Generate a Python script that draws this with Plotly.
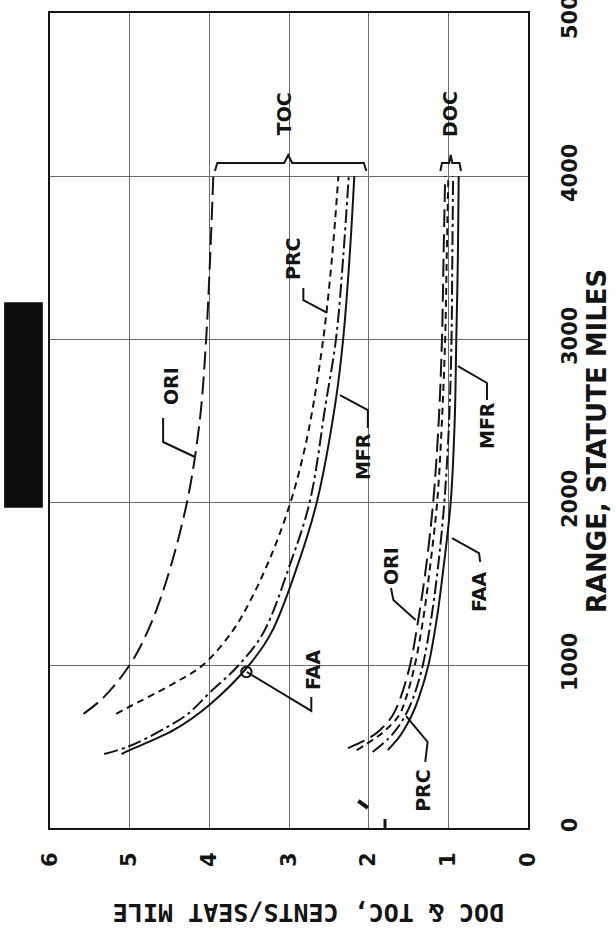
import plotly.graph_objects as go

# Operating cost per seat-mile against stage length, four costing methods.
# TOC = total operating cost, DOC = direct operating cost.
toc_ori_range = [700, 800, 1000, 1200, 1500, 2000, 2500, 3000, 3500, 4000]
toc_ori_cost = [5.58, 5.33, 5.00, 4.78, 4.55, 4.28, 4.12, 4.04, 3.99, 3.95]

toc_prc_range = [700, 750, 800, 900, 1000, 1200, 1400, 1700, 2000, 2250, 2500, 3000, 3500, 4000]
toc_prc_cost = [5.17, 4.98, 4.78, 4.40, 4.08, 3.72, 3.48, 3.20, 2.98, 2.84, 2.73, 2.57, 2.46, 2.38]

toc_faa_range = [454, 503, 600, 700, 828, 1000, 1200, 1600, 2000, 2600, 3000, 3500, 4000]
toc_faa_cost = [5.32, 5.00, 4.60, 4.27, 4.00, 3.63, 3.32, 3.00, 2.74, 2.54, 2.41, 2.32, 2.25]

toc_mfr_range = [454, 478, 600, 755, 1000, 1200, 1600, 2000, 2600, 3000, 3500, 4000]
toc_mfr_cost = [5.10, 5.00, 4.45, 4.00, 3.50, 3.22, 2.90, 2.65, 2.42, 2.32, 2.24, 2.18]

doc_ori_range = [490, 550, 600, 690, 800, 1000, 1300, 1600, 2000, 2500, 3000, 3500, 4000]
doc_ori_cost = [2.26, 2.00, 1.86, 1.70, 1.60, 1.48, 1.37, 1.28, 1.19, 1.12, 1.08, 1.06, 1.04]

doc_prc_range = [478, 550, 600, 690, 800, 1000, 1300, 1600, 2000, 2500, 3000, 3500, 4000]
doc_prc_cost = [2.15, 1.92, 1.79, 1.62, 1.53, 1.42, 1.31, 1.23, 1.14, 1.08, 1.04, 1.02, 1.00]

doc_faa_range = [466, 550, 600, 690, 800, 1000, 1300, 1600, 2000, 2500, 3000, 3500, 4000]
doc_faa_cost = [1.95, 1.75, 1.66, 1.54, 1.44, 1.32, 1.21, 1.13, 1.05, 0.99, 0.96, 0.95, 0.94]

doc_mfr_range = [478, 550, 600, 690, 800, 1000, 1300, 1600, 2000, 2500, 3000, 3500, 4000]
doc_mfr_cost = [1.76, 1.63, 1.56, 1.46, 1.37, 1.25, 1.14, 1.06, 0.97, 0.92, 0.90, 0.88, 0.87]

cost_ticks = [0, 1, 2, 3, 4, 5, 6]
range_ticks = [0, 1000, 2000, 3000, 4000, 5000]

INK = "#141414"
GRID = "#6a6a6a"
LABEL_FONT = dict(family="DejaVu Sans", size=19, color=INK, weight="bold")

dash_styles = {
    "ORI": "18px,7px",
    "PRC": "7px,5px",
    "FAA": "14px,4px,3px,4px",
    "MFR": "solid",
}

series = [
    ("TOC", "ORI", toc_ori_range, toc_ori_cost),
    ("TOC", "PRC", toc_prc_range, toc_prc_cost),
    ("TOC", "FAA", toc_faa_range, toc_faa_cost),
    ("TOC", "MFR", toc_mfr_range, toc_mfr_cost),
    ("DOC", "ORI", doc_ori_range, doc_ori_cost),
    ("DOC", "PRC", doc_prc_range, doc_prc_cost),
    ("DOC", "FAA", doc_faa_range, doc_faa_cost),
    ("DOC", "MFR", doc_mfr_range, doc_mfr_cost),
]

fig = go.Figure()
for group, method, rng, cost in series:
    # the chart is laid on its side: cost runs horizontally, range vertically
    fig.add_trace(go.Scatter(
        x=cost, y=rng, mode="lines", name=f"{group} {method}",
        line=dict(color=INK, width=2, dash=dash_styles[method],
                  shape="spline", smoothing=1.0),
        showlegend=False, hoverinfo="skip",
    ))


def path(points):
    return "M " + " L ".join(f"{x},{y}" for x, y in points)


shapes = []
line_style = dict(color=INK, width=2)

# leader lines from the method labels to their curves
leaders = [
    [(4.58, 2515), (4.58, 2368), (4.18, 2276)],      # ORI, TOC
    [(2.01, 2454), (2.01, 2564), (2.36, 2656)],      # MFR, TOC
    [(2.82, 3313), (2.82, 3239), (2.52, 3160)],      # PRC, TOC
    [(2.72, 804), (2.72, 718), (3.53, 957)],         # FAA, TOC
    [(1.72, 1472), (1.69, 1399), (1.41, 1276)],      # ORI, DOC
    [(1.29, 405), (1.26, 528), (1.53, 687)],         # PRC, DOC
    [(0.60, 1632), (0.615, 1687), (0.954, 1779)],    # FAA, DOC
    [(0.515, 2626), (0.515, 2730), (0.88, 2834)],    # MFR, DOC
]
for pts in leaders:
    shapes.append(dict(type="path", xref="x", yref="y", path=path(pts), line=line_style))

# small ring where the FAA leader meets the TOC pair
shapes.append(dict(type="circle", xref="x", yref="y",
                   x0=3.60, x1=3.47, y0=925, y1=989, line=dict(color=INK, width=2)))

# braces grouping the curve families
shapes.append(dict(type="path", xref="x", yref="y", line=line_style,
                   path=path([(3.93, 4031), (3.90, 4080), (3.06, 4080), (3.01, 4129),
                              (2.96, 4080), (2.06, 4080), (2.03, 4031)])))
shapes.append(dict(type="path", xref="x", yref="y", line=line_style,
                   path=path([(1.10, 4031), (1.08, 4080), (0.99, 4080), (0.97, 4129),
                              (0.95, 4080), (0.86, 4080), (0.84, 4031)])))

# stray pen marks near the foot of the 2-cent line
shapes.append(dict(type="path", xref="x", yref="y", line=dict(color=INK, width=4),
                   path=path([(2.13, 166), (2.01, 123)])))
shapes.append(dict(type="path", xref="x", yref="y", line=dict(color=INK, width=3),
                   path=path([(1.795, 55), (1.795, 0)])))

# dark block at the left edge of the sheet
shapes.append(dict(type="rect", xref="paper", yref="paper",
                   x0=-0.096, x1=-0.015, y0=0.393, y1=0.645,
                   fillcolor="#0c0c0c", line=dict(width=0)))

annotations = []


def label(text, x, y, angle=-90, font=LABEL_FONT, xref="x", yref="y"):
    annotations.append(dict(text=text, x=x, y=y, xref=xref, yref=yref,
                            showarrow=False, textangle=angle, font=font,
                            xanchor="center", yanchor="middle"))


label("TOC", 3.06, 4380)
label("DOC", 0.98, 4380)
label("ORI", 4.48, 2712)
label("MFR", 2.07, 2276)
label("PRC", 2.95, 3497)
label("FAA", 2.70, 975)
label("ORI", 1.72, 1607)
label("PRC", 1.32, 233)
label("FAA", 0.615, 1448)
label("MFR", 0.515, 2472)

# axis titles, turned with the sheet
label("RANGE, STATUTE MILES", 1.145, 0.475, xref="paper", yref="paper",
      font=dict(family="DejaVu Sans", size=26, color=INK, weight="bold"))
label("DOC & TOC, CENTS/SEAT MILE", 0.542, -0.103, angle=180, xref="paper", yref="paper",
      font=dict(family="DejaVu Sans Mono", size=25, color=INK, weight="bold"))

tick_font = dict(family="DejaVu Sans", size=21, color=INK, weight="bold")

fig.update_layout(
    width=616, height=935,
    margin=dict(l=50, r=88, t=13, b=107, pad=0, autoexpand=False),
    paper_bgcolor="white", plot_bgcolor="white",
    shapes=shapes, annotations=annotations,
    xaxis=dict(range=[6, 0], tickvals=cost_ticks, ticktext=[str(v) for v in cost_ticks],
               tickangle=-90, tickfont=tick_font, ticks="", ticklabelstandoff=14,
               automargin=False,
               showgrid=True, gridcolor=GRID, gridwidth=1,
               showline=True, mirror=True, linecolor=INK, linewidth=2, zeroline=False),
    yaxis=dict(range=[0, 5000], tickvals=range_ticks, ticktext=[str(v) for v in range_ticks],
               side="right", tickangle=-90, tickfont=tick_font, ticks="", ticklabelstandoff=22,
               ticklabeloverflow="allow", automargin=False,
               showgrid=True, gridcolor=GRID, gridwidth=1,
               showline=True, mirror=True, linecolor=INK, linewidth=2, zeroline=False),
)

fig.write_html("out.html")
